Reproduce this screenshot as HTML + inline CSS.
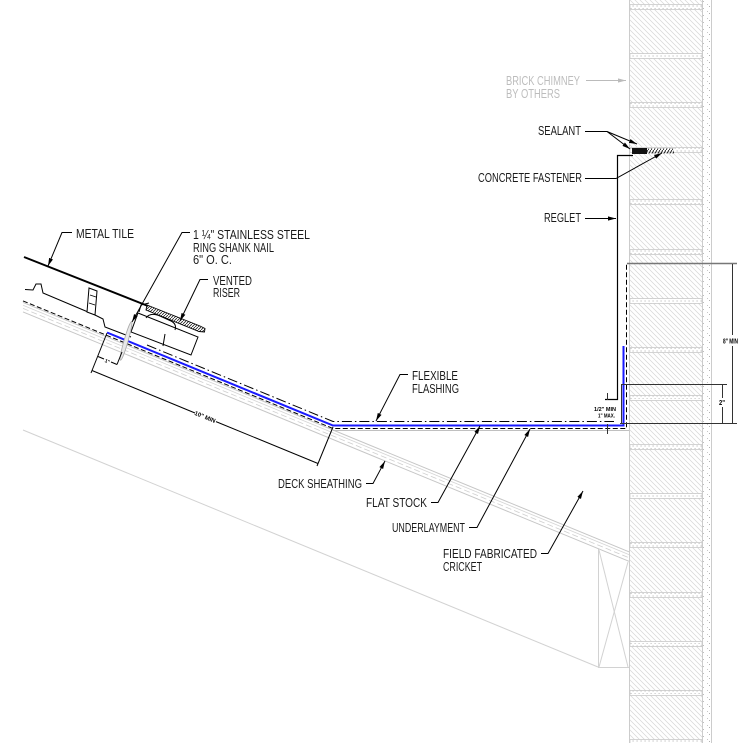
<!DOCTYPE html>
<html><head><meta charset="utf-8"><style>
html,body{margin:0;padding:0;background:#fff;}
svg{display:block;}
text{font-family:"Liberation Sans",sans-serif;}
</style></head><body>
<svg width="743" height="743" viewBox="0 0 743 743" xmlns="http://www.w3.org/2000/svg">
<defs>
<pattern id="hatch" patternUnits="userSpaceOnUse" width="5" height="5">
<path d="M-1,-1 L6,6 M-1,4 L1,6 M4,-1 L6,1" stroke="#d6d6d6" stroke-width="0.7"/>
</pattern>
<pattern id="dots" patternUnits="userSpaceOnUse" width="4" height="5">
<rect x="0.5" y="0.5" width="1.2" height="1" fill="#b8b8b8"/>
<rect x="2.5" y="3" width="1.2" height="1" fill="#c8c8c8"/>
</pattern>
<pattern id="sdots" patternUnits="userSpaceOnUse" width="9" height="7">
<rect x="1" y="1" width="1" height="1" fill="#bdbdbd"/>
<rect x="5" y="4" width="1" height="1" fill="#c8c8c8"/>
<rect x="7" y="6" width="1" height="1" fill="#b0b0b0"/>
</pattern>
<pattern id="fast" patternUnits="userSpaceOnUse" width="3" height="5">
<path d="M0,5 L3,0" stroke="#111" stroke-width="0.9"/>
</pattern>
<pattern id="flh" patternUnits="userSpaceOnUse" width="3" height="3">
<path d="M0,3 L3,0" stroke="#222" stroke-width="0.8"/>
</pattern>
<marker id="ar" markerUnits="userSpaceOnUse" markerWidth="8" markerHeight="6" refX="8" refY="3" orient="auto">
<path d="M0,0.9 L8,3 L0,5.1 z" fill="#000"/>
</marker>
<marker id="arg" markerUnits="userSpaceOnUse" markerWidth="8" markerHeight="6" refX="8" refY="3" orient="auto">
<path d="M0,0.9 L8,3 L0,5.1 z" fill="#bbb"/>
</marker>
</defs>

<rect width="743" height="743" fill="#fff"/>

<!-- Brick chimney -->
<rect x="629" y="0" width="73" height="743" fill="url(#hatch)"/>
<rect x="702" y="0" width="9" height="743" fill="url(#sdots)"/>
<g stroke="#cccccc" stroke-width="1">
<line x1="629.5" y1="0" x2="629.5" y2="743"/>
<line x1="702.5" y1="0" x2="702.5" y2="743"/>
<line x1="711.5" y1="0" x2="711.5" y2="743"/>
</g>
<g fill="#fff" stroke="none">
<rect x="630" y="4.5" width="72" height="5"/>
<rect x="630" y="53.5" width="72" height="5"/>
<rect x="630" y="102.5" width="72" height="5"/>
<rect x="630" y="147.5" width="72" height="5"/>
<rect x="630" y="199.5" width="72" height="5"/>
<rect x="630" y="249.5" width="72" height="5"/>
<rect x="630" y="298.5" width="72" height="5"/>
<rect x="630" y="347.5" width="72" height="5"/>
<rect x="630" y="395.5" width="72" height="5"/>
<rect x="630" y="444.5" width="72" height="5"/>
<rect x="630" y="493.5" width="72" height="5"/>
<rect x="630" y="542.5" width="72" height="5"/>
<rect x="630" y="592.5" width="72" height="5"/>
<rect x="630" y="641.5" width="72" height="5"/>
<rect x="630" y="690.5" width="72" height="5"/>
<rect x="630" y="739.5" width="72" height="5"/>
</g>
<g fill="url(#dots)" stroke="#cacaca" stroke-width="0.8">
<rect x="630" y="4.5" width="72" height="5"/>
<rect x="630" y="53.5" width="72" height="5"/>
<rect x="630" y="102.5" width="72" height="5"/>
<rect x="630" y="147.5" width="72" height="5"/>
<rect x="630" y="199.5" width="72" height="5"/>
<rect x="630" y="249.5" width="72" height="5"/>
<rect x="630" y="298.5" width="72" height="5"/>
<rect x="630" y="347.5" width="72" height="5"/>
<rect x="630" y="395.5" width="72" height="5"/>
<rect x="630" y="444.5" width="72" height="5"/>
<rect x="630" y="493.5" width="72" height="5"/>
<rect x="630" y="542.5" width="72" height="5"/>
<rect x="630" y="592.5" width="72" height="5"/>
<rect x="630" y="641.5" width="72" height="5"/>
<rect x="630" y="690.5" width="72" height="5"/>
<rect x="630" y="739.5" width="72" height="5"/>
</g>

<!-- Cricket (light gray) -->
<g stroke="#d2d2d2" stroke-width="1" fill="none">
<line x1="23" y1="430" x2="598" y2="667"/>
<line x1="598.5" y1="549" x2="598.5" y2="667"/>
<line x1="598" y1="667.5" x2="629" y2="667.5"/>
<line x1="599" y1="550" x2="628" y2="667"/>
<line x1="628" y1="562" x2="599" y2="667"/>
</g>

<!-- Deck sheathing band -->
<g fill="none">
<line x1="23" y1="302.4" x2="629" y2="551.8" stroke="#c6c6c6" stroke-width="1"/>
<line x1="23" y1="305.2" x2="629" y2="554.6" stroke="#d4d4d4" stroke-width="0.8"/>
<line x1="23" y1="308.4" x2="629" y2="557.8" stroke="#cfcfcf" stroke-width="0.8" stroke-dasharray="6 3"/>
<line x1="23" y1="311.9" x2="629" y2="561.3" stroke="#c6c6c6" stroke-width="1"/>
</g>
<line x1="333" y1="430.5" x2="629" y2="430.5" stroke="#c0c0c0" stroke-width="1"/>

<!-- Flashing layers -->
<polyline points="147,345 333,421.5 614,421.5" fill="none" stroke="#000" stroke-width="1" stroke-dasharray="10 3 1.5 3"/>
<polyline points="23,300.9 333,428.5 626.5,428.5 626.5,263" fill="none" stroke="#000" stroke-width="1" stroke-dasharray="5 2.5"/>
<polyline points="107,332.5 333,425.5 623.5,425.5 623.5,346" fill="none" stroke="#1a1aff" stroke-width="2"/>

<!-- Reglet -->
<polyline points="605,399.5 617.5,399.5 617.5,155.5 633,155.5" fill="none" stroke="#000" stroke-width="1.2"/>
<rect x="632" y="148" width="15" height="6" fill="#111"/>
<rect x="647" y="148.5" width="27" height="5" fill="url(#fast)"/>
<rect x="674" y="149" width="9" height="4" fill="url(#dots)"/>

<!-- Right dimensions -->
<g stroke="#333" stroke-width="1" fill="none">
<line x1="627" y1="263.5" x2="737" y2="263.5" stroke="#777" stroke-width="1.6"/>
<line x1="620" y1="423.5" x2="737" y2="423.5"/>
<line x1="621" y1="384.5" x2="727" y2="384.5"/>
<line x1="621.5" y1="384" x2="621.5" y2="423"/>
<line x1="732.5" y1="264" x2="732.5" y2="335"/>
<line x1="732.5" y1="346" x2="732.5" y2="423"/>
<line x1="722.5" y1="384" x2="722.5" y2="398"/>
<line x1="722.5" y1="407" x2="722.5" y2="423"/>
<line x1="607.5" y1="393" x2="607.5" y2="400"/>
<line x1="607.5" y1="424" x2="607.5" y2="434"/>
</g>
<text x="723" y="343.5" font-size="7" font-weight="bold" textLength="15" lengthAdjust="spacingAndGlyphs">8" MIN</text>
<text x="719" y="405" font-size="7" font-weight="bold" textLength="6" lengthAdjust="spacingAndGlyphs">2"</text>
<text x="594" y="411" font-size="5.5" font-weight="bold" textLength="22" lengthAdjust="spacingAndGlyphs">1/2" MIN</text>
<text x="598" y="417.5" font-size="5.5" font-weight="bold" textLength="17" lengthAdjust="spacingAndGlyphs">1" MAX.</text>

<!-- Metal tile -->
<line x1="24" y1="257" x2="148" y2="306" stroke="#000" stroke-width="2"/>
<polyline points="25,289.5 33,290 36,284 41,284 43,293 88,312" fill="none" stroke="#000" stroke-width="1"/>
<polygon points="89,288 97,291 95,315 87,312" fill="#fff" stroke="#000" stroke-width="1"/>
<line x1="90" y1="295" x2="96" y2="297" stroke="#000" stroke-width="0.8"/>
<line x1="89" y1="303" x2="95" y2="305" stroke="#000" stroke-width="0.8"/>
<polyline points="95,315 103,319 105,327 131,337" fill="none" stroke="#000" stroke-width="1"/>

<!-- Vented riser -->
<polygon points="138,313 198,337 191,355 131,332" fill="#fff" stroke="#000" stroke-width="1"/>
<polyline points="139,312 141,305 149,303" fill="none" stroke="#000" stroke-width="1"/>
<polygon points="147,305 200,326 205,328.5 204.5,332 199,331.5 146,310" fill="url(#flh)" stroke="#000" stroke-width="0.9"/>
<path d="M146,318 Q150,312 160,316 L171,321 Q177,324 175,330" fill="none" stroke="#000" stroke-width="1"/>
<line x1="165" y1="334" x2="163" y2="346" stroke="#000" stroke-width="1"/>

<!-- Nail -->
<ellipse cx="126" cy="341" rx="2" ry="20" fill="#e8e8e8" stroke="#aaa" stroke-width="0.8" transform="rotate(16 126 341)"/>

<!-- 10" MIN dimension -->
<g stroke="#000" stroke-width="1" fill="none">
<line x1="107" y1="333" x2="91" y2="373"/>
<line x1="333" y1="427" x2="317" y2="466"/>
<line x1="92" y1="370.5" x2="195" y2="413"/>
<line x1="216" y1="421.6" x2="318" y2="463.5"/>
<line x1="98" y1="356.5" x2="104" y2="359"/>
<line x1="111" y1="362" x2="117" y2="364.5"/>
<line x1="117" y1="364.5" x2="122" y2="352"/>
</g>
<text x="205" y="419" font-size="6" font-weight="bold" text-anchor="middle" transform="rotate(22.4 205 417)">10" MIN</text>
<text x="107.5" y="363" font-size="5" font-weight="bold" text-anchor="middle" transform="rotate(22.4 107.5 361)">1"</text>

<!-- Leaders -->
<g fill="none" stroke="#000" stroke-width="1">
<polyline points="585,131.5 607,131.5 630,149" marker-end="url(#ar)"/>
<polyline points="607,131.5 637,144" marker-end="url(#ar)"/>
<polyline points="585,178.5 616,178.5 662,153" marker-end="url(#ar)"/>
<polyline points="585,218.5 616,218.5" marker-end="url(#ar)"/>
<polyline points="72,232.5 62,232.5 48,266" marker-end="url(#ar)"/>
<polyline points="190,232.5 182,232.5 132,322" marker-end="url(#ar)"/>
<polyline points="208,279.5 200,279.5 180,321" marker-end="url(#ar)"/>
<polyline points="408,374.5 400,374.5 376,421" marker-end="url(#ar)"/>
<polyline points="366,483.5 373,483.5 385,461" marker-end="url(#ar)"/>
<polyline points="431,502.5 438,502.5 480,426" marker-end="url(#ar)"/>
<polyline points="469,527.5 477,527.5 530,429" marker-end="url(#ar)"/>
<polyline points="541,553.5 548,553.5 583,491" marker-end="url(#ar)"/>
</g>
<polyline points="586,80.5 626,80.5" fill="none" stroke="#bbb" stroke-width="1" marker-end="url(#arg)"/>

<!-- Labels -->
<g font-size="12.5" fill="#1a1a1a">
<text x="506" y="85" fill="#bdbdbd" textLength="74" lengthAdjust="spacingAndGlyphs">BRICK CHIMNEY</text>
<text x="506" y="98" fill="#bdbdbd" textLength="54" lengthAdjust="spacingAndGlyphs">BY OTHERS</text>
<text x="538" y="135" textLength="43" lengthAdjust="spacingAndGlyphs">SEALANT</text>
<text x="478" y="182" textLength="104" lengthAdjust="spacingAndGlyphs">CONCRETE FASTENER</text>
<text x="544" y="222" textLength="37" lengthAdjust="spacingAndGlyphs">REGLET</text>
<text x="76" y="238" textLength="58" lengthAdjust="spacingAndGlyphs">METAL TILE</text>
<text x="193" y="239" textLength="117" lengthAdjust="spacingAndGlyphs">1 ¼" STAINLESS STEEL</text>
<text x="193" y="252" textLength="81" lengthAdjust="spacingAndGlyphs">RING SHANK NAIL</text>
<text x="193" y="264" textLength="39" lengthAdjust="spacingAndGlyphs">6" O. C.</text>
<text x="213" y="285" textLength="39" lengthAdjust="spacingAndGlyphs">VENTED</text>
<text x="213" y="297" textLength="27" lengthAdjust="spacingAndGlyphs">RISER</text>
<text x="412" y="380" textLength="46" lengthAdjust="spacingAndGlyphs">FLEXIBLE</text>
<text x="412" y="393" textLength="47" lengthAdjust="spacingAndGlyphs">FLASHING</text>
<text x="278" y="488" textLength="84" lengthAdjust="spacingAndGlyphs">DECK SHEATHING</text>
<text x="366" y="507" textLength="61" lengthAdjust="spacingAndGlyphs">FLAT STOCK</text>
<text x="392" y="532" textLength="73" lengthAdjust="spacingAndGlyphs">UNDERLAYMENT</text>
<text x="443" y="558" textLength="94" lengthAdjust="spacingAndGlyphs">FIELD FABRICATED</text>
<text x="443" y="571" textLength="39" lengthAdjust="spacingAndGlyphs">CRICKET</text>
</g>
</svg>
</body></html>
